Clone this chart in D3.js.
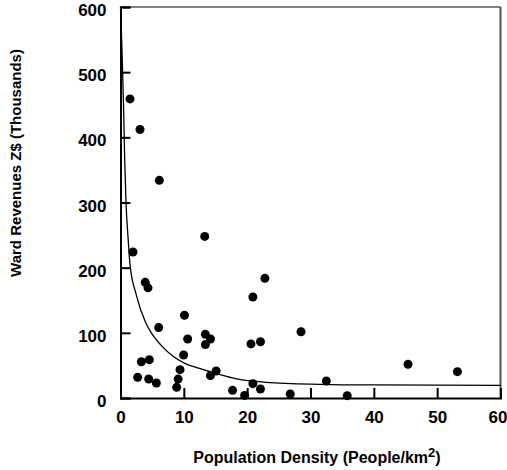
<!DOCTYPE html>
<html>
<head>
<meta charset="utf-8">
<script src="https://cdnjs.cloudflare.com/ajax/libs/d3/7.8.5/d3.min.js"></script>
<style>
  body { margin: 0; background: #fff; }
  text { font-family: 'Liberation Sans', Arial, sans-serif; font-weight: bold; fill: #000; }
</style>
</head>
<body>
<div id="chart"></div>
<script>
// Ward observations: population density vs ward revenue (thousands)
const density = [1.5, 3.08, 6.13, 13.3, 1.97, 3.9, 4.34, 6.03, 10.1, 10.6, 13.4, 13.4, 14.2, 9.97, 9.4, 9.1, 8.87,
  3.29, 4.55, 2.71, 4.45, 5.66, 14.2, 15.1, 17.7, 19.6, 20.9, 20.6, 20.9, 22.8, 22.1, 28.5, 22.1, 26.8, 32.5, 35.8, 45.4, 53.2];
const revenue = [459, 412, 334, 248, 224, 177.5, 169, 108, 127, 90.5, 97.7, 82, 90.5, 66, 43.5, 29, 16.4,
  55.7, 58.8, 31.7, 29.2, 23, 34.3, 41.4, 11.8, 4, 155, 83, 22, 183.6, 86.4, 101.7, 13.8, 6.1, 26, 3.6, 51.7, 40.4];

// fitted curve
const fitX = [0, 0.25, 0.5, 0.65, 0.87, 1.2, 1.5, 2.5, 4, 5, 6.5, 8.3, 10, 12.6, 15.7, 18, 23, 31.5, 40, 60];
const fitY = [600, 530, 440, 370, 300, 245, 205, 158, 115, 98, 80, 64, 54, 45, 36, 30, 24, 21, 20, 19.5];

const xTicks = [0, 10, 20, 30, 40, 50, 60];
const yTicks = [0, 100, 200, 300, 400, 500, 600];

const width = 507, height = 470;
const margin = { top: 7, right: 6.5, bottom: 72, left: 120.5 };

const svg = d3.select("#chart").append("svg")
  .attr("width", width)
  .attr("height", height);

const x = d3.scaleLinear().domain([0, 60]).range([margin.left, width - margin.right]);
const y = d3.scaleLinear().domain([0, 600]).range([height - margin.bottom, margin.top]);

// frame: top and right in dark grey
svg.append("line")
  .attr("x1", x(0)).attr("x2", x(60)).attr("y1", y(600)).attr("y2", y(600))
  .attr("stroke", "#555").attr("stroke-width", 1.5);
svg.append("line")
  .attr("x1", x(60)).attr("x2", x(60)).attr("y1", y(600)).attr("y2", y(0))
  .attr("stroke", "#555").attr("stroke-width", 2);

// y axis (ticks point inwards)
const yAxis = svg.append("g")
  .attr("transform", `translate(${x(0)},0)`)
  .call(d3.axisRight(y).tickValues(yTicks).tickSize(10).tickFormat(""));
yAxis.select(".domain").attr("stroke", "#000").attr("stroke-width", 2);
yAxis.selectAll(".tick line").attr("stroke", "#000").attr("stroke-width", 2);

yAxis.selectAll(".tick").append("text")
  .attr("x", -14)
  .attr("dy", "0.5em")
  .attr("text-anchor", "end")
  .style("font-size", "17px")
  .text(d => d);

// x axis (ticks point up)
const xAxis = svg.append("g")
  .attr("transform", `translate(0,${y(0)})`)
  .call(d3.axisTop(x).tickValues(xTicks).tickSize(10).tickFormat(""));
xAxis.select(".domain").attr("stroke", "#000").attr("stroke-width", 2);
xAxis.selectAll(".tick line").attr("stroke", "#000").attr("stroke-width", 2);

xAxis.selectAll(".tick").append("text")
  .attr("y", 25)
  .attr("x", d => d === 60 ? -3 : 0)
  .attr("text-anchor", "middle")
  .style("font-size", "17px")
  .text(d => d);

// fitted curve
const fit = fitX.map((v, i) => [v, fitY[i]]);
svg.append("path")
  .datum(fit)
  .attr("fill", "none")
  .attr("stroke", "#000")
  .attr("stroke-width", 1.3)
  .attr("d", d3.line().x(d => x(d[0])).y(d => y(d[1])).curve(d3.curveMonotoneX));

// points
svg.append("g").selectAll("circle")
  .data(density.map((v, i) => [v, revenue[i]]))
  .join("circle")
  .attr("cx", d => x(d[0]))
  .attr("cy", d => y(d[1]))
  .attr("r", 4.5)
  .attr("fill", "#000");

// axis titles
const xt = svg.append("text")
  .attr("x", 317)
  .attr("y", 463)
  .attr("text-anchor", "middle")
  .style("font-family", "'Liberation Sans Narrow', 'Liberation Sans', sans-serif")
  .style("font-size", "16px");
xt.append("tspan").text("Population Density (People/km");
xt.append("tspan").attr("dy", -6).style("font-size", "13px").text("2");
xt.append("tspan").attr("dy", 6).text(")");

svg.append("text")
  .attr("transform", "translate(21,163) rotate(-90)")
  .attr("text-anchor", "middle")
  .style("font-family", "'Liberation Sans Narrow', 'Liberation Sans', sans-serif")
  .style("font-size", "15px")
  .text("Ward Revenues Z$ (Thousands)");
</script>
</body>
</html>
